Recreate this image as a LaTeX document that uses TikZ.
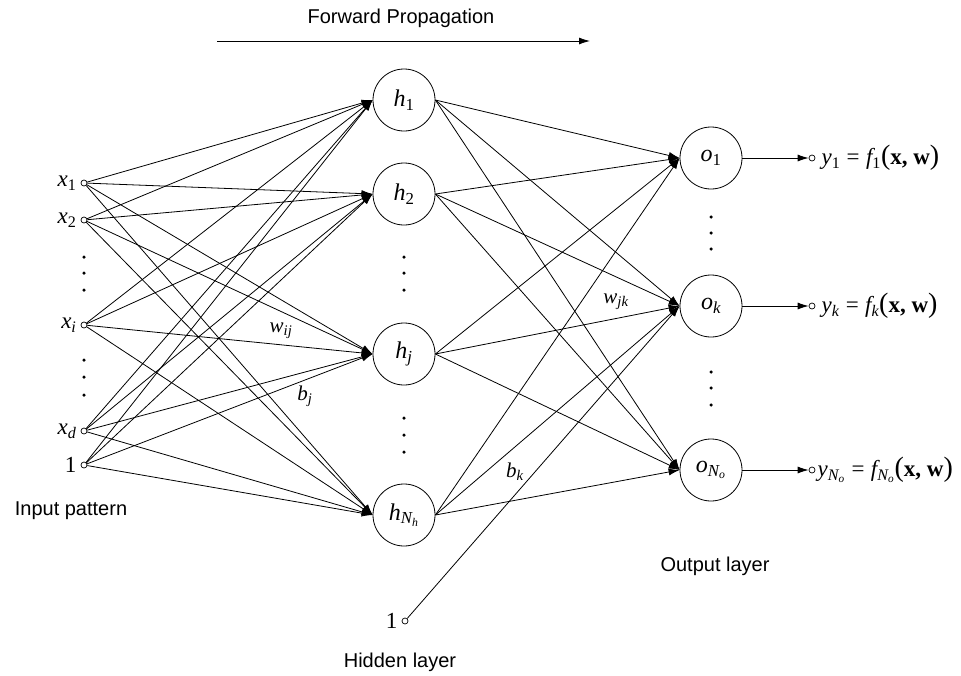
\documentclass[tikz,border=0pt]{standalone}
\usepackage{fontspec}
\setmainfont{Liberation Sans}
\newfontfamily\tms{Liberation Serif}
\newcommand{\mv}[1]{{\tms\itshape #1}}
\newcommand{\sbs}[1]{\textsubscript{\tms #1}}
\newcommand{\bigpar}[1]{{\tms\fontsize{28}{28}\selectfont #1}}
\newcommand{\outfn}[1]{\mv{y}\sbs{#1}\ {\tms =}\ \mv{f}\sbs{#1}\bigpar{(}{\tms\bfseries x, w}\bigpar{)}}
\usetikzlibrary{arrows.meta,positioning}
\begin{document}
\begin{tikzpicture}[
    x=1pt, y=-1pt,
    neuron/.style={draw, circle, line width=0.8pt, minimum size=62pt, inner sep=0pt, font=\fontsize{24}{26}\selectfont},
    port/.style={draw, circle, line width=0.7pt, minimum size=6pt, inner sep=0pt},
    feed/.style={line width=0.8pt, -{Latex[length=11pt,width=7pt]}},
    vdot/.style={fill, circle, minimum size=3.5pt, inner sep=0pt},
    caption/.style={font=\fontsize{20}{24}\selectfont},
    mathlbl/.style={font=\fontsize{23}{26}\selectfont, inner sep=1pt},
    weight/.style={font=\fontsize{21}{24}\selectfont, inner sep=1pt}
    ]
    \useasboundingbox (0,0) rectangle (961,675);
    % inputs
    \node[port] (in1) at (84,183) {};
    \node[port] (in2) at (84,220) {};
    \node[port] (ini) at (84,325) {};
    \node[port] (ind) at (84,431) {};
    \node[port] (inb) at (84,465) {};
    \node[mathlbl, left=3pt of in1] (lx1) {\mv{x}\sbs{1}};
    \node[mathlbl, left=3pt of in2] (lx2) {\mv{x}\sbs{2}};
    \node[mathlbl, left=3pt of ini] (lxi) {\mv{x}\sbs{\mv{i}}};
    \node[mathlbl, left=3pt of ind] (lxd) {\mv{x}\sbs{\mv{d}}};
    \node[mathlbl, left=3pt of inb] (lxb) {\tms 1};
    \foreach \y in {257,273,290,360,377,395}
        \node[vdot] (din\y) at (84,\y) {};
    % hidden layer
    \node[neuron] (h1) at (404,100) {\mv{h}\sbs{1}};
    \node[neuron] (h2) at (404,194) {\mv{h}\sbs{2}};
    \node[neuron] (hj) at (404,354) {\mv{h}\sbs{\mv{j}}};
    \node[neuron] (hn) at (404,515) {\mv{h}\sbs{\mv{N}\sbs{\mv{h}}}};
    \foreach \y in {257,273,290,418,435,452}
        \node[vdot] (dh\y) at (404,\y) {};
    \node[port] (hb) at (405,621) {};
    \node[mathlbl, left=3pt of hb] (lhb) {\tms 1};
    % output layer
    \node[neuron] (o1) at (711,158) {\mv{o}\sbs{1}};
    \node[neuron] (ok) at (711,306) {\mv{o}\sbs{\mv{k}}};
    \node[neuron] (on) at (711,470) {\mv{o}\sbs{\mv{N}\sbs{\mv{o}}}};
    \foreach \y in {217,233,249,372,388,405}
        \node[vdot] (do\y) at (711,\y) {};
    \node[port] (y1) at (812,158) {};
    \node[port] (yk) at (812,306) {};
    \node[port] (yn) at (812,470) {};
    \node[mathlbl, right=5pt of y1] (ly1) {\outfn{1}};
    \node[mathlbl, right=5pt of yk] (lyk) {\outfn{\mv{k}}};
    \node[mathlbl, right=1pt of yn] (lyn) {\outfn{\mv{N}\sbs{\mv{o}}}};
    % connections
    \foreach \i in {in1,in2,ini,ind,inb}
        \foreach \j in {h1,h2,hj,hn}
            \draw[feed] (\i) -- (\j.west);
    \foreach \j in {h1,h2,hj,hn}
        \foreach \k in {o1,ok,on}
            \draw[feed] (\j.east) -- (\k.west);
    \draw[feed] (hb) -- (ok.west);
    \draw[feed] (o1) -- (y1);
    \draw[feed] (ok) -- (yk);
    \draw[feed] (on) -- (yn);
    % weights
    \node[weight] (wij) at (281,331) {\mv{w}\sbs{\mv{ij}}};
    \node[weight] (bj) at (305,396) {\mv{b}\sbs{\mv{j}}};
    \node[weight] (wjk) at (616,302) {\mv{w}\sbs{\mv{jk}}};
    \node[weight] (bk) at (515,472) {\mv{b}\sbs{\mv{k}}};
    % captions
    \coordinate (fps) at (217,41);
    \coordinate (fpe) at (590,41);
    \draw[feed] (fps) -- (fpe);
    \node[caption] (fp) at (401,18) {Forward Propagation};
    \node[caption] (cin) at (71,511) {Input pattern};
    \node[caption] (chid) at (400,662) {Hidden layer};
    \node[caption] (cout) at (715,566) {Output layer};
\end{tikzpicture}
\end{document}
